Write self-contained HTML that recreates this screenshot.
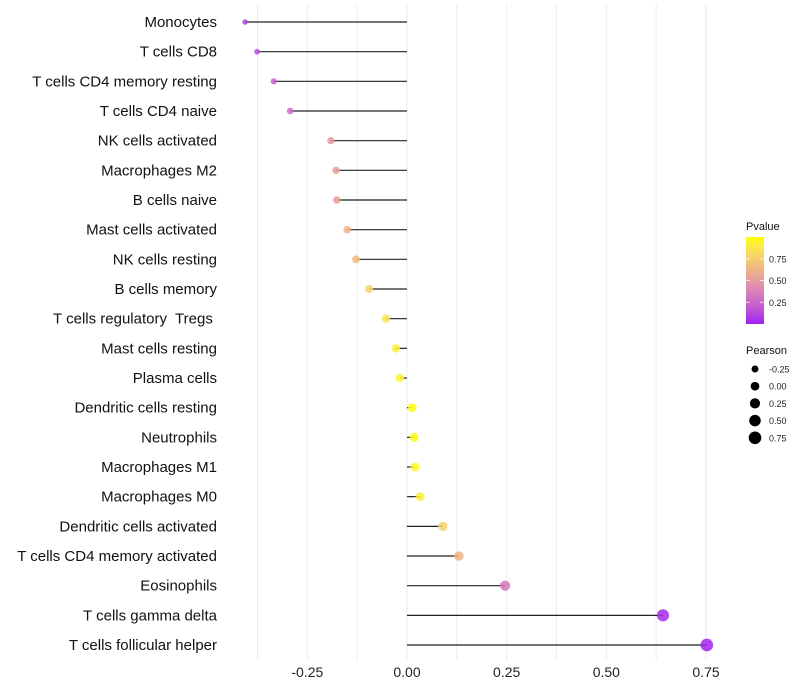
<!DOCTYPE html>
<html><head><meta charset="utf-8"><style>
body{margin:0;background:#fff;}
svg{display:block;font-family:"Liberation Sans",sans-serif;}
text{white-space:pre;}
</style></head><body>
<svg id="chart" width="800" height="700"></svg>
<script>
const categories=["Monocytes","T cells CD8","T cells CD4 memory resting","T cells CD4 naive","NK cells activated","Macrophages M2","B cells naive","Mast cells activated","NK cells resting","B cells memory","T cells regulatory  Tregs ","Mast cells resting","Plasma cells","Dendritic cells resting","Neutrophils","Macrophages M1","Macrophages M0","Dendritic cells activated","T cells CD4 memory activated","Eosinophils","T cells gamma delta","T cells follicular helper"];
const pearson=[-0.406,-0.376,-0.334,-0.293,-0.191,-0.178,-0.176,-0.150,-0.128,-0.095,-0.053,-0.028,-0.018,0.013,0.018,0.020,0.033,0.090,0.130,0.246,0.642,0.752];
const pvalues=[0.10,0.15,0.22,0.27,0.50,0.52,0.52,0.62,0.68,0.78,0.87,0.92,0.95,0.99,0.99,0.97,0.93,0.77,0.63,0.32,0.03,0.01];
const xTicks=[-0.25,0,0.25,0.5,0.75];
const xTickLabels=["-0.25","0.00","0.25","0.50","0.75"];
const gridVals=[-0.375,-0.25,-0.125,0,0.125,0.25,0.375,0.5,0.625,0.75];
const cbTicks=[0.25,0.5,0.75];
const sizeLegend=[-0.25,0,0.25,0.5,0.75];

const NS="http://www.w3.org/2000/svg";
const svg=document.getElementById('chart');
function x(v){return 407+v*398.7;}
function y(i){return 22+i*29.667;}
function r(v){return Math.sqrt(Math.max(19+28*v,4));}
function toLab(c){let [R,G,B]=c.map(v=>{v/=255;return v>0.04045?Math.pow((v+0.055)/1.055,2.4):v/12.92;});
 let X=(R*0.4124+G*0.3576+B*0.1805)/0.95047,Y=R*0.2126+G*0.7152+B*0.0722,Z=(R*0.0193+G*0.1192+B*0.9505)/1.08883;
 const f=t=>t>0.008856?Math.cbrt(t):7.787*t+16/116;X=f(X);Y=f(Y);Z=f(Z);return [116*Y-16,500*(X-Y),200*(Y-Z)];}
function fromLab(l){let Y=(l[0]+16)/116,X=l[1]/500+Y,Z=Y-l[2]/200;const g=t=>t*t*t>0.008856?t*t*t:(t-16/116)/7.787;
 X=g(X)*0.95047;Y=g(Y);Z=g(Z)*1.08883;let R=X*3.2406+Y*-1.5372+Z*-0.4986,G=X*-0.9689+Y*1.8758+Z*0.0415,B=X*0.0557+Y*-0.2040+Z*1.0570;
 return [R,G,B].map(v=>{v=v>0.0031308?1.055*Math.pow(v,1/2.4)-0.055:12.92*v;return Math.round(Math.min(1,Math.max(0,v))*255);});}
const LA=toLab([160,32,240]),LB=toLab([255,255,0]);
function col(p){const l=LA.map((c,k)=>c+(LB[k]-c)*p);return `rgb(${fromLab(l).join(',')})`;}
function mk(tag,attrs,parent){const e=document.createElementNS(NS,tag);for(const k in attrs)e.setAttribute(k,attrs[k]);(parent||svg).appendChild(e);return e;}

gridVals.forEach(v=>{
 const g=mk('line',{x1:x(v),x2:x(v),y1:5,y2:660,stroke:'#ebebeb','stroke-width':1});
 
 
});
xTicks.forEach((v,i)=>{
 const t=mk('text',{x:x(v),y:677,'text-anchor':'middle','font-size':14,fill:'#222'});
 t.textContent=xTickLabels[i];
 
 
});
categories.forEach((c,i)=>{
 const t=mk('text',{x:217,y:y(i)+5,'text-anchor':'end','font-size':15,fill:'#111'});
 t.textContent=c;
 
 
 const l=mk('line',{x1:x(0),x2:x(pearson[i]),y1:y(i),y2:y(i),stroke:'#222','stroke-width':1.2});
 
 
 const d=mk('circle',{cx:x(pearson[i]),cy:y(i),r:r(pearson[i]),fill:col(pvalues[i]),'fill-opacity':0.85});
 
 
});
const t1=mk('text',{x:746,y:230,'font-size':11,fill:'#111'});t1.textContent='Pvalue';


const defs=mk('defs',{});
const gr=mk('linearGradient',{id:'pg',x1:0,y1:1,x2:0,y2:0},defs);
for(let s=0;s<=10;s++){mk('stop',{offset:s/10,'stop-color':col(s/10)},gr);}
const cb=mk('rect',{x:746,y:237,width:18,height:87,fill:'url(#pg)'});


cbTicks.forEach(v=>{
 const yy=324-v*87;
 mk('line',{x1:746,x2:750,y1:yy,y2:yy,stroke:'#fff','stroke-opacity':0.7});
 mk('line',{x1:760,x2:764,y1:yy,y2:yy,stroke:'#fff','stroke-opacity':0.7});
 const t=mk('text',{x:769,y:yy+3.5,'font-size':9,fill:'#222'});t.textContent=v.toFixed(2);
 
 
});
const t2=mk('text',{x:746,y:354,'font-size':11,fill:'#111'});t2.textContent='Pearson';


sizeLegend.forEach((v,i)=>{
 const yy=369+i*17.2;
 const c=mk('circle',{cx:755,cy:yy,r:r(v),fill:'#000'});
 
 
 const t=mk('text',{x:769,y:yy+3.5,'font-size':9,fill:'#222'});t.textContent=v.toFixed(2);
 
 
});
</script>
</body></html>
